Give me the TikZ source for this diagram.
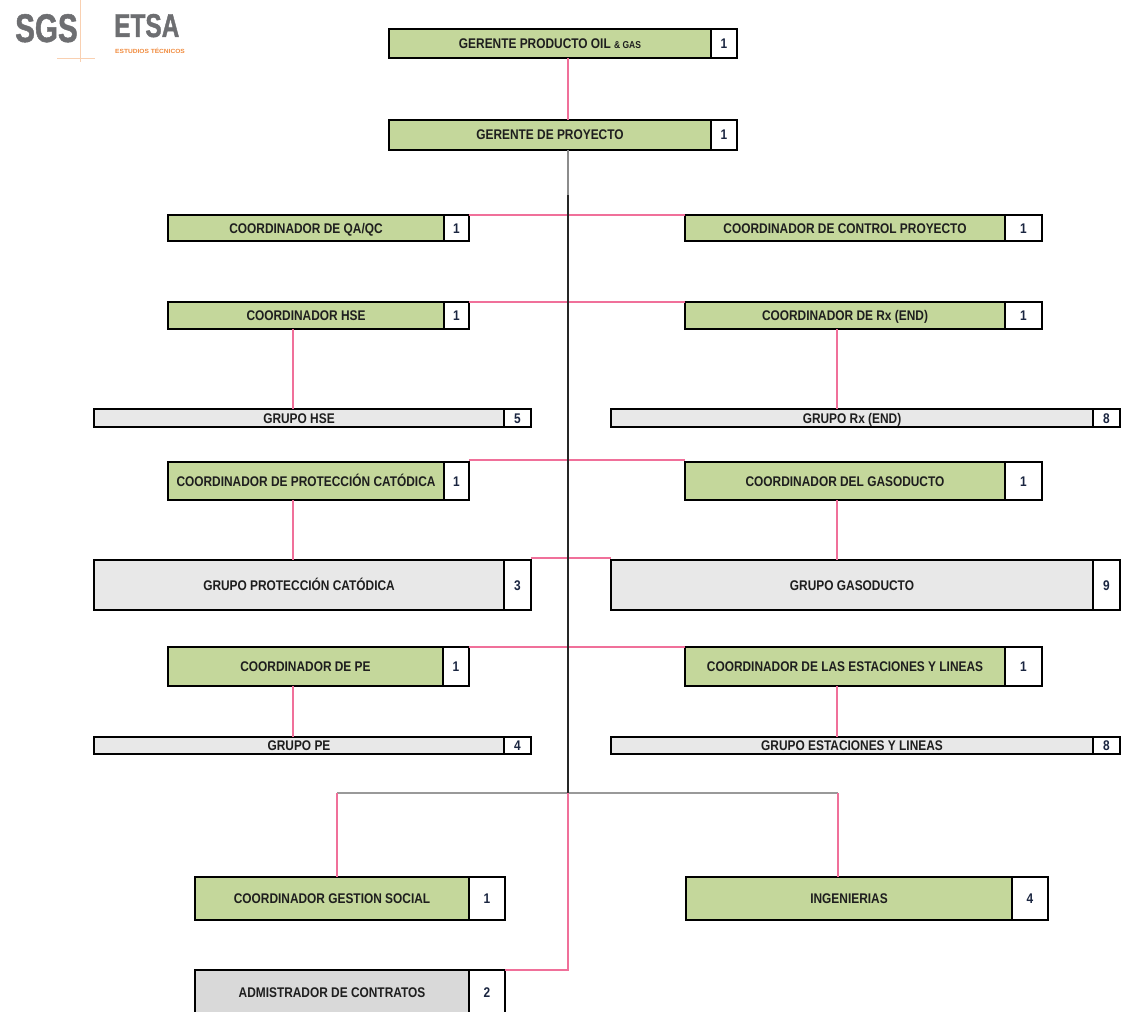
\documentclass[tikz,border=0pt]{standalone}
\usepackage{fontspec}
\setmainfont{Liberation Sans}[FakeStretch=0.85]
\newfontfamily\logofont{Liberation Sans}[FakeStretch=0.74,FakeBold=1.2]
\newfontfamily\smalllogo{Liberation Sans}[FakeStretch=1.1]
\definecolor{boxgreen}{HTML}{C4D79B}
\definecolor{boxgray}{HTML}{E8E8E8}
\definecolor{admgray}{HTML}{D9D9D9}
\definecolor{textdark}{HTML}{1E1E1E}
\definecolor{numblue}{HTML}{1A2540}
\definecolor{pinkline}{HTML}{F0709A}
\definecolor{logogray}{HTML}{6D6E71}
\definecolor{logoorange}{HTML}{F08A3C}
\begin{document}
\begin{tikzpicture}[x=1pt,y=-1pt,
  base/.style={draw=black, line width=1.2pt, inner sep=0pt, outer sep=0pt,
    font=\bfseries\fontsize{14}{14}\selectfont, text=textdark,
    text height=10pt, text depth=0pt},
  gbox/.style={base, fill=boxgreen},
  grbox/.style={base, fill=boxgray},
  admbox/.style={base, fill=admgray, line width=2.6pt},
  nbox/.style={base, fill=white, text=numblue, anchor=west},
  nadm/.style={nbox, line width=2.6pt},
  pk/.style={draw=pinkline, line width=1.3pt},
  spine/.style={draw=black!85, line width=1.2pt},
  gline/.style={draw=black!40, line width=1.6pt}]
\useasboundingbox (0,0) rectangle (1131,1011);

% logos
\node[inner sep=0pt, anchor=base west, text=logogray,
  font=\logofont\bfseries\fontsize{40}{40}\selectfont] (sgs) at (15,42) {SGS};
\node[inner sep=0pt, anchor=base west, text=logogray,
  font=\logofont\bfseries\fontsize{33}{33}\selectfont] (etsa) at (114,37) {ETSA};
\node[inner sep=0pt, anchor=base west, text=logoorange,
  font=\smalllogo\bfseries\fontsize{6}{6}\selectfont] (estud) at (115,54) {ESTUDIOS TÉCNICOS};
\draw[logoorange!40, line width=0.6pt] (80,0) -- (80,62);
\draw[logoorange!40, line width=0.6pt] (57,58) -- (95,58);

% top
\node[gbox, minimum width=322pt, minimum height=29pt] (gpo) at (550,43.5)
  {GERENTE PRODUCTO OIL {\fontsize{10}{10}\selectfont\&\ GAS}};
\node[nbox, minimum width=26pt, minimum height=29pt] (gpon) at (gpo.east) {1};
\node[gbox, minimum width=322pt, minimum height=30pt] (gp) at (550,135) {GERENTE DE PROYECTO};
\node[nbox, minimum width=26pt, minimum height=30pt] (gpn) at (gp.east) {1};

% row QA / control
\node[gbox, minimum width=276pt, minimum height=26pt] (qa) at (306,228) {COORDINADOR DE QA/QC};
\node[nbox, minimum width=25pt, minimum height=26pt] (qan) at (qa.east) {1};
\node[gbox, minimum width=320pt, minimum height=26pt] (cp) at (845,228) {COORDINADOR DE CONTROL PROYECTO};
\node[nbox, minimum width=37pt, minimum height=26pt] (cpn) at (cp.east) {1};

% row HSE / Rx
\node[gbox, minimum width=276pt, minimum height=27pt] (hse) at (306,315.5) {COORDINADOR HSE};
\node[nbox, minimum width=25pt, minimum height=27pt] (hsen) at (hse.east) {1};
\node[gbox, minimum width=320pt, minimum height=27pt] (crx) at (845,315.5) {COORDINADOR DE Rx (END)};
\node[nbox, minimum width=37pt, minimum height=27pt] (crxn) at (crx.east) {1};

\node[grbox, minimum width=410pt, minimum height=18pt] (ghse) at (299,418) {GRUPO HSE};
\node[nbox, minimum width=27pt, minimum height=18pt] (ghsen) at (ghse.east) {5};
\node[grbox, minimum width=482pt, minimum height=18pt] (grx) at (852,418) {GRUPO Rx (END)};
\node[nbox, minimum width=27pt, minimum height=18pt] (grxn) at (grx.east) {8};

% row PC / gasoducto
\node[gbox, minimum width=276pt, minimum height=38pt] (pc) at (306,481) {COORDINADOR DE PROTECCIÓN CATÓDICA};
\node[nbox, minimum width=25pt, minimum height=38pt] (pcn) at (pc.east) {1};
\node[gbox, minimum width=320pt, minimum height=38pt] (gas) at (845,481) {COORDINADOR DEL GASODUCTO};
\node[nbox, minimum width=37pt, minimum height=38pt] (gasn) at (gas.east) {1};

\node[grbox, minimum width=410pt, minimum height=50pt] (gpc) at (299,585) {GRUPO PROTECCIÓN CATÓDICA};
\node[nbox, minimum width=27pt, minimum height=50pt] (gpcn) at (gpc.east) {3};
\node[grbox, minimum width=482pt, minimum height=50pt] (ggas) at (852,585) {GRUPO GASODUCTO};
\node[nbox, minimum width=27pt, minimum height=50pt] (ggasn) at (ggas.east) {9};

% row PE / estaciones
\node[gbox, minimum width=275pt, minimum height=39pt] (pe) at (305.5,666.5) {COORDINADOR DE PE};
\node[nbox, minimum width=26pt, minimum height=39pt] (pen) at (pe.east) {1};
\node[gbox, minimum width=320pt, minimum height=39pt] (est) at (845,666.5) {COORDINADOR DE LAS ESTACIONES Y LINEAS};
\node[nbox, minimum width=37pt, minimum height=39pt] (estn) at (est.east) {1};

\node[grbox, minimum width=410pt, minimum height=17pt] (gpe) at (299,745.5) {GRUPO PE};
\node[nbox, minimum width=27pt, minimum height=17pt] (gpen) at (gpe.east) {4};
\node[grbox, minimum width=482pt, minimum height=17pt] (gest) at (852,745.5) {GRUPO ESTACIONES Y LINEAS};
\node[nbox, minimum width=27pt, minimum height=17pt] (gestn) at (gest.east) {8};

% bottom
\node[gbox, minimum width=274pt, minimum height=43pt] (gs) at (332,898.5) {COORDINADOR GESTION SOCIAL};
\node[nbox, minimum width=36pt, minimum height=43pt] (gsn) at (gs.east) {1};
\node[gbox, minimum width=326pt, minimum height=43pt] (ing) at (849,898.5) {INGENIERIAS};
\node[nbox, minimum width=36pt, minimum height=43pt] (ingn) at (ing.east) {4};
\node[admbox, minimum width=274pt, minimum height=45pt] (adm) at (332,992.5) {ADMISTRADOR DE CONTRATOS};
\node[nadm, minimum width=36pt, minimum height=45pt] (admn) at (adm.east) {2};

% connector coordinates
\coordinate (xs) at (568,0);
\coordinate (xl) at (293,0);
\coordinate (xr) at (837,0);
\coordinate (xgs) at (337,0);
\coordinate (xing) at (838,0);
\coordinate (jb) at (568,793);
\coordinate (sg) at (568,195);

% pink connectors
\draw[pk] (gpo.south -| xs) -- (gp.north -| xs);
\draw[pk] (qan.north east) -- (cp.north west);
\draw[pk] (hsen.north east) -- (crx.north west);
\draw[pk] ([yshift=2pt]pcn.north east) -- ([yshift=2pt]gas.north west);
\draw[pk] ([yshift=2pt]gpcn.north east) -- ([yshift=2pt]ggas.north west);
\draw[pk] (pen.north east) -- (est.north west);
\draw[pk] (hse.south -| xl) -- (ghse.north -| xl);
\draw[pk] (crx.south -| xr) -- (grx.north -| xr);
\draw[pk] (pc.south -| xl) -- (gpc.north -| xl);
\draw[pk] (gas.south -| xr) -- (ggas.north -| xr);
\draw[pk] (pe.south -| xl) -- (gpe.north -| xl);
\draw[pk] (est.south -| xr) -- (gest.north -| xr);
\draw[gline] (jb -| xgs) -- (jb -| xing);
\draw[pk] (jb -| xgs) -- (gs.north -| xgs);
\draw[pk] (jb -| xing) -- (ing.north -| xing);
\draw[pk] (jb) |- (admn.north east);

% spine
\draw[draw=black!45, line width=1.2pt] (gp.south -| xs) -- (sg);
\draw[spine] (sg) -- (jb);
\end{tikzpicture}
\end{document}
